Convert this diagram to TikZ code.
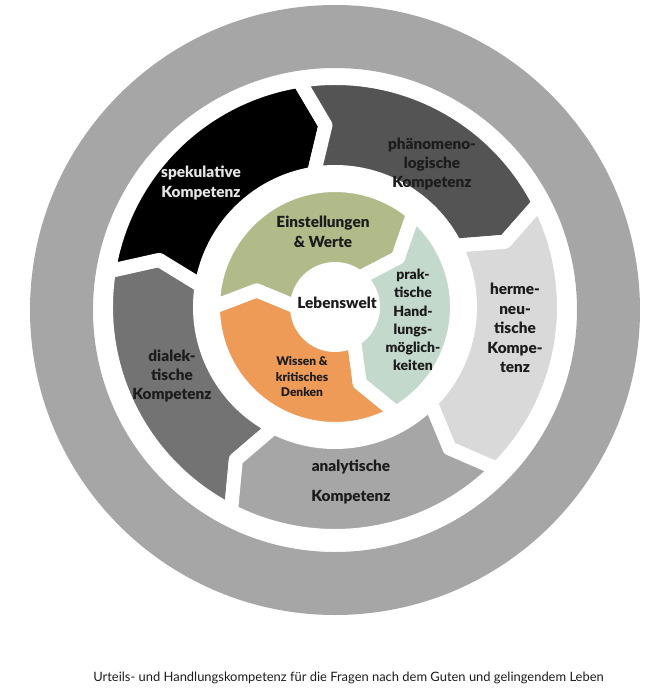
\documentclass[tikz,border=0pt]{standalone}
\usepackage{fontspec}
\setmainfont{Lato}[BoldFont = {Lato Black}]
\usepackage{xcolor}
\usepackage{tikz}
\definecolor{ringgray}{HTML}{A6A6A6}
\definecolor{spekblack}{HTML}{000000}
\definecolor{phaenogray}{HTML}{545454}
\definecolor{hermegray}{HTML}{D9D9D9}
\definecolor{analygray}{HTML}{A6A6A6}
\definecolor{dialgray}{HTML}{737373}
\definecolor{wertegreen}{HTML}{B1BB8A}
\definecolor{handlteal}{HTML}{C3D9CC}
\definecolor{wissenorange}{HTML}{EF9B58}
\definecolor{labelink}{HTML}{1C1C1C}
\tikzset{
segment/.style = { draw = white, line width = 10.5pt, line join = round },
comp label/.style = { text = labelink, font = \bfseries\fontsize{11.5}{14.6}\selectfont, align = center, inner sep = 0pt },
core label/.style = { text = labelink, font = \bfseries\fontsize{11.5}{15}\selectfont, align = center, inner sep = 0pt },
caption/.style = { text = labelink, font = \fontsize{9.7}{12}\selectfont, inner sep = 0pt },
}
\tikzset{
pics/cycle arrow/.style args={#1, #2, #3}{
        code = {
        \path[segment, fill = #3] (#1:\segout) arc[start angle = #1, end angle = #2, radius = \segout] -- ({#2-\segtip}:\segmid) -- (#2:\segin) arc[start angle = #2, end angle = #1, radius = \segin] -- ({#1-\segtip}:\segmid) -- cycle;
        }
    }
}

\begin{document}
\begin{tikzpicture}[x=0.75pt, y=0.75pt]
      \useasboundingbox (-335,307) rectangle (331,-387);
      \coordinate (hub) at (0,0);
      \path[fill = ringgray, even odd rule] (0,-3) circle[radius = 305] (0,-3) circle[radius = 242];
      % Kompetenzen
      \begin{scope}
        \def\segout{229}\def\segin{135}\def\segmid{182}\def\segtip{6}
        \pic at (hub) {cycle arrow={-117, -189, dialgray}};
        \pic at (hub) {cycle arrow={171, 99, spekblack}};
        \pic at (hub) {cycle arrow={99, 27, phaenogray}};
        \pic at (hub) {cycle arrow={27, -45, hermegray}};
        \pic at (hub) {cycle arrow={-45, -117, analygray}};
      \end{scope}
      % Lebenswelt
      \begin{scope}
        \def\segout{122}\def\segin{38}\def\segmid{80}\def\segtip{12}
        \pic at (hub) {cycle arrow={-60, -180, wissenorange}};
        \pic at (hub) {cycle arrow={180, 50, wertegreen}};
        \pic at (hub) {cycle arrow={50, -60, handlteal}};
      \end{scope}
      \begin{scope}[every node/.style={comp label}]
        \node[text = white!90!black] (spek) at (-134,124) {spekulative\\Kompetenz};
        \node (phaeno) at (97,143) {phänomeno-\\logische\\Kompetenz};
        \node (herme) at (180,-21) {herme-\\neu-\\tische\\Kompe-\\tenz};
        \node[font = \bfseries\fontsize{11.5}{21.8}\selectfont] (analy) at (16,-175) {analytische\\Kompetenz};
        \node (dial) at (-163,-69) {dialek-\\tische\\Kompetenz};
      \end{scope}
      \begin{scope}[every node/.style={core label}]
        \node (lebenswelt) at (2,4) {Lebenswelt};
        \node (werte) at (-12,75) {Einstellungen\\\& Werte};
        \node[font = \bfseries\fontsize{10.5}{13.7}\selectfont] (handl) at (78,-13) {prak-\\tische\\Hand-\\lungs-\\möglich-\\keiten};
        \node[font = \bfseries\fontsize{9}{11.6}\selectfont] (wissen) at (-33,-70) {Wissen \&\\kritisches\\Denken};
      \end{scope}
      \node[caption] (urteil) at (13.5,-371) {Urteils- und Handlungskompetenz für die Fragen nach dem Guten und gelingendem Leben};
    \end{tikzpicture}
\end{document}
